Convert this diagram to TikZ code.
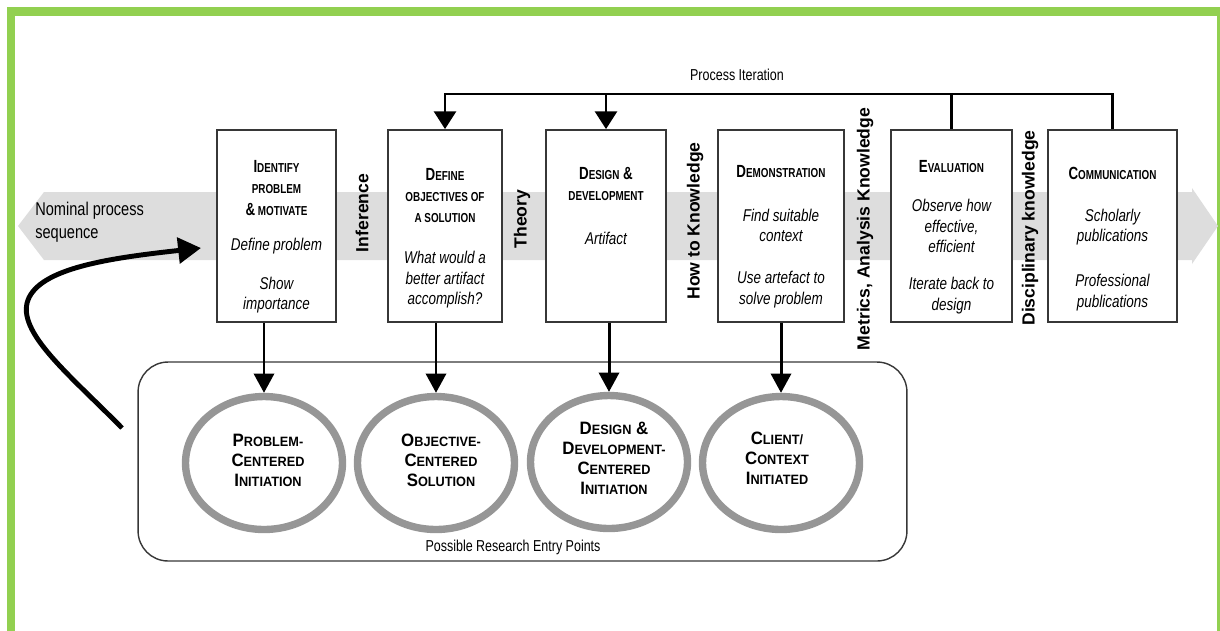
\documentclass[tikz,border=0pt]{standalone}
\usepackage{fontspec}
\setmainfont{Liberation Sans}
\newfontfamily\bodyf{Liberation Sans}[FakeStretch=0.79]
\newfontfamily\headf{Liberation Sans}[FakeStretch=0.76]
\newfontfamily\ellf{Liberation Sans}[FakeStretch=0.94]
\usetikzlibrary{shapes.geometric, arrows.meta}

\definecolor{framegreen}{RGB}{146,208,80}
\definecolor{bandgray}{RGB}{221,221,221}
\definecolor{ringgray}{RGB}{150,150,150}
\definecolor{boxline}{RGB}{55,55,55}

% small capitals, done by hand
\newcommand\hlc[1]{{\fontsize{7.4}{12}\selectfont #1}}
\newcommand\elc[1]{{\fontsize{7.7}{11.4}\selectfont #1}}

\tikzset{
  stage/.style={draw=boxline, line width=1.1pt, fill=white, minimum height=3.84cm, inner sep=0pt},
  hd/.style={font=\headf\bfseries\fontsize{10}{12}\selectfont, align=center, inner sep=0pt},
  bd/.style={font=\bodyf\itshape\fontsize{9.7}{11.7}\selectfont, align=center, inner sep=0pt},
  entrypt/.style={ellipse, draw=ringgray, line width=4.2pt, fill=white,
                  minimum width=3.14cm, minimum height=2.66cm, inner sep=0pt},
  et/.style={font=\ellf\bfseries\fontsize{10.2}{11.4}\selectfont, align=center, inner sep=0pt},
  knw/.style={rotate=90, font=\bfseries\fontsize{10}{12}\selectfont, inner sep=0pt},
  plain/.style={font=\bodyf\fontsize{9}{11}\selectfont, inner sep=0pt},
  down/.style={line width=1.7pt, -{Triangle[length=11pt,width=11.5pt]}},
  iter/.style={line width=1.3pt, line join=miter},
  iterarrow/.style={iter, -{Triangle[length=10pt,width=12.5pt]}},
}

\begin{document}
\begin{tikzpicture}[x=0.02cm, y=-0.02cm]
\useasboundingbox (0,0) rectangle (1220,630);

% frame
\draw[framegreen, line width=4.6pt] (11,11.5) rectangle (1221,700);

% nominal process band
\fill[bandgray] (18,226) -- (44,192) -- (1192,192) -- (1192,188) -- (1218,226)
  -- (1192,264) -- (1192,260) -- (44,260) -- cycle;
\node[font=\bodyf\fontsize{10.5}{13}\selectfont, align=left, anchor=west, inner sep=0pt]
  (nps) at (35,222) {Nominal process\\sequence};

% activity boxes
\node[stage, minimum width=2.38cm] (b1) at (276.5,226) {};
\node[stage, minimum width=2.28cm] (b2) at (445,226) {};
\node[stage, minimum width=2.40cm] (b3) at (606,226) {};
\node[stage, minimum width=2.52cm] (b4) at (781,226) {};
\node[stage, minimum width=2.42cm] (b5) at (951.5,226) {};
\node[stage, minimum width=2.58cm] (b6) at (1112.5,226) {};

% box texts
\node[hd] (b1h) at (276.5,188) {I\hlc{DENTIFY}\\\hlc{PROBLEM}\\\&\hlc{ MOTIVATE}};
\node[bd] (b1a) at (276.5,246) {Define problem};
\node[bd] (b1b) at (276.5,295) {Show\\importance};

\node[hd] (b2h) at (445,195.5) {D\hlc{EFINE}\\\hlc{OBJECTIVES OF}\\\hlc{A SOLUTION}};
\node[bd] (b2a) at (445,280) {What would a\\better artifact\\accomplish?};

\node[hd] (b3h) at (606,184) {D\hlc{ESIGN} \&\\\hlc{DEVELOPMENT}};
\node[bd] (b3a) at (606,238) {Artifact};

\node[hd] (b4h) at (781,172) {D\hlc{EMONSTRATION}};
\node[bd] (b4a) at (781,225.5) {Find suitable\\context};
\node[bd] (b4b) at (781,289.5) {Use artefact to\\solve problem};

\node[hd] (b5h) at (951.5,167) {E\hlc{VALUATION}};
\node[bd] (b5a) at (951.5,226) {Observe how\\effective,\\efficient};
\node[bd] (b5b) at (951.5,295.5) {Iterate back to\\design};

\node[hd] (b6h) at (1112.5,173) {C\hlc{OMMUNICATION}};
\node[bd] (b6a) at (1112.5,227) {Scholarly\\publications};
\node[bd] (b6b) at (1112.5,292.5) {Professional\\publications};

% knowledge labels between the boxes
\node[knw] (k1) at (362,213) {Inference};
\node[knw] (k2) at (522,219) {Theory};
\node[knw] (k3) at (695,221) {How to Knowledge};
\node[knw] (k4) at (865,229) {Metrics, Analysis Knowledge};
\node[knw] (k5) at (1030,228) {Disciplinary knowledge};

% process iteration
\coordinate (itop) at (0,94);
\node[plain] (pit) at (737,75) {Process Iteration};
\draw[iterarrow] (b6.north) -- (b6.north |- itop) -- (b2.north |- itop) -- (b2.north);
\draw[iter] (b5.north) -- (b5.north |- itop);
\draw[iterarrow] (b3.north |- itop) -- (b3.north);

% research entry points
\node[draw=boxline, line width=0.8pt, rounded corners=0.6cm, minimum width=15.38cm,
      minimum height=3.98cm, inner sep=0pt] (entry) at (522.5,461.5) {};
\node[plain] (entrylbl) at (513,547) {Possible Research Entry Points};

\node[entrypt] (e1) at (264,463) {};
\node[entrypt] (e2) at (436,463) {};
\node[entrypt] (e3) at (609,462) {};
\node[entrypt] (e4) at (781,463) {};

\node[et] (e1t) at (268,460) {P\elc{ROBLEM-}\\C\elc{ENTERED}\\I\elc{NITIATION}};
\node[et] (e2t) at (441,460) {O\elc{BJECTIVE-}\\C\elc{ENTERED}\\S\elc{OLUTION}};
\node[et] (e3t) at (614,458) {D\elc{ESIGN} \&\\D\elc{EVELOPMENT-}\\C\elc{ENTERED}\\I\elc{NITIATION}};
\node[et] (e4t) at (777,458) {C\elc{LIENT/}\\C\elc{ONTEXT}\\I\elc{NITIATED}};

\draw[down] (e1.north |- b1.south) -- (e1.north);
\draw[down] (e2.north |- b2.south) -- (e2.north);
\draw[down] (e3.north |- b3.south) -- (e3.north);
\draw[down] (e4.north |- b4.south) -- (e4.north);

% entry feeding back into the nominal sequence
\coordinate (cs) at (122,428);
\coordinate (ce) at (201,248);
\draw[line width=2.8pt, -{Triangle[length=13pt,width=14.5pt]}]
  (cs) .. controls (70,375) and (16,332) .. (28,300)
       .. controls (40,268) and (110,258) .. (ce);

\end{tikzpicture}
\end{document}
